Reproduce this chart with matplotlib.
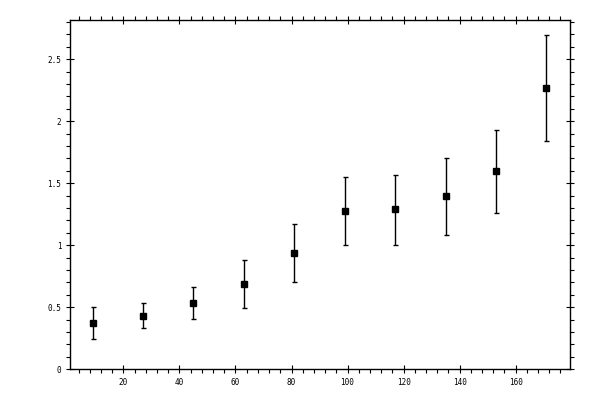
import matplotlib
matplotlib.use("Agg")
import matplotlib.pyplot as plt
from matplotlib.ticker import MultipleLocator

x_vals = [9, 27, 45, 63, 81, 99, 117, 135, 153, 171]
y_vals = [0.371, 0.427, 0.532, 0.688, 0.938, 1.28, 1.29, 1.40, 1.597, 2.266]
y_top = [0.50, 0.532, 0.664, 0.88, 1.17, 1.55, 1.57, 1.70, 1.927, 2.696]
y_bottom = [0.242, 0.331, 0.403, 0.492, 0.705, 1.0, 1.005, 1.085, 1.26, 1.839]

err_low = [y - b for y, b in zip(y_vals, y_bottom)]
err_high = [t - y for y, t in zip(y_vals, y_top)]

fig = plt.figure(figsize=(6, 4), dpi=100)
ax = fig.add_axes([0.116, 0.077, 0.834, 0.874])

ax.errorbar(x_vals, y_vals, yerr=[err_low, err_high], fmt='s', color='black',
            markersize=5, capsize=1.8, elinewidth=1, capthick=1)

ax.set_xlim(0.8, 179.4)
ax.set_ylim(0, 2.82)

ax.xaxis.set_major_locator(MultipleLocator(20))
ax.xaxis.set_minor_locator(MultipleLocator(4))
ax.yaxis.set_major_locator(MultipleLocator(0.5))
ax.yaxis.set_minor_locator(MultipleLocator(0.1))
ax.yaxis.set_major_formatter(plt.FuncFormatter(lambda v, p: '%g' % v))

for s in ax.spines.values():
    s.set_linewidth(1)

ax.tick_params(which='major', direction='inout', length=6, width=0.8,
               top=True, right=True, labelsize=5.5)
ax.tick_params(which='minor', direction='out', length=3, width=0.8,
               top=True, right=True)
ax.tick_params(axis='x', which='major', pad=3.5)
ax.tick_params(axis='y', which='major', pad=3)

for lab in ax.get_yticklabels():
    lab.set_family('DejaVu Sans Mono')

# the reference shows no label at x=0
ax.set_xticks([20, 40, 60, 80, 100, 120, 140, 160])
ax.set_xticklabels(['20', '40', '60', '80', '100', '120', '140', '160'],
                   family='DejaVu Sans Mono', fontsize=5.5)

plt.savefig('out.png', dpi=100)
